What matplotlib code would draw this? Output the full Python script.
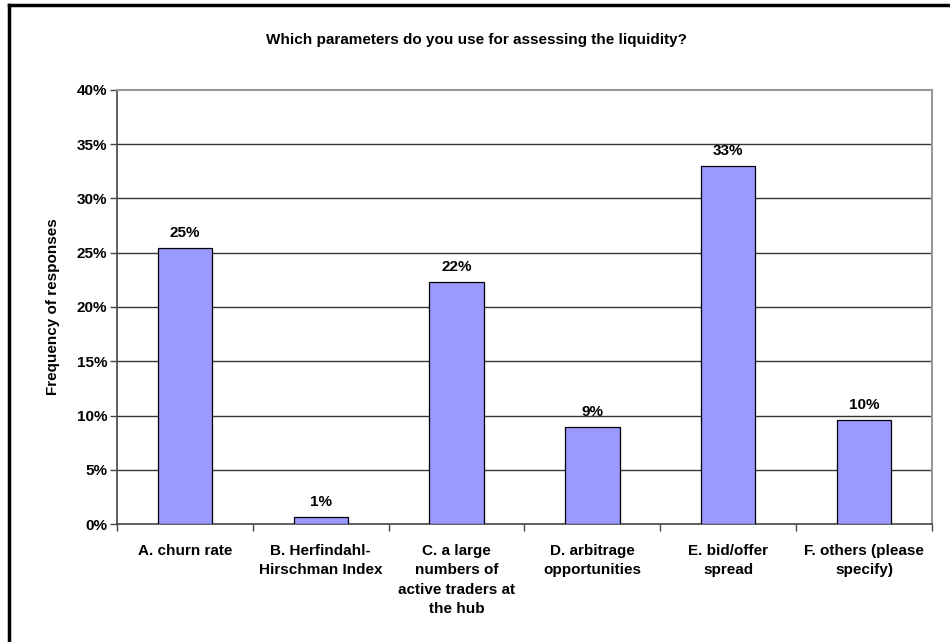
import matplotlib
matplotlib.use("Agg")
import matplotlib.pyplot as plt
from matplotlib.lines import Line2D
from matplotlib.ticker import FuncFormatter, MultipleLocator

plt.rcParams['font.family'] = ['Liberation Sans', 'DejaVu Sans']

categories = ["A. churn rate",
              "B. Herfindahl-\nHirschman Index",
              "C. a large\nnumbers of\nactive traders at\nthe hub",
              "D. arbitrage\nopportunities",
              "E. bid/offer\nspread",
              "F. others (please\nspecify)"]
values = [25.4, 0.65, 22.3, 8.9, 33.0, 9.55]
labels = ["25%", "1%", "22%", "9%", "33%", "10%"]
title = "Which parameters do you use for assessing the liquidity?"
ylabel = "Frequency of responses"

W, H = 950, 642
fig = plt.figure(figsize=(W / 100, H / 100), dpi=100)
fig.patch.set_facecolor("white")

FS = 11

# axes in pixel geometry
L, R, T, B = 117, 932, 90, 524
ax = fig.add_axes([L / W, 1 - B / H, (R - L) / W, (B - T) / H])

x = list(range(len(categories)))
ax.bar(x, values, width=0.4, color="#9999FF", edgecolor="black", linewidth=0.9, zorder=3)
ax.set_xlim(-0.5, len(categories) - 0.5)
ax.set_ylim(0, 40)
ax.yaxis.set_major_locator(MultipleLocator(5))
ax.yaxis.set_major_formatter(FuncFormatter(lambda v, p: f"{int(round(v))}%"))

# gridlines
for yv in range(5, 40, 5):
    ax.axhline(yv, color="#333333", linewidth=1.0, zorder=1)

for s in ["top", "right"]:
    ax.spines[s].set_color("#999999")
    ax.spines[s].set_linewidth(1.5)
for s in ["left", "bottom"]:
    ax.spines[s].set_color("#444444")
    ax.spines[s].set_linewidth(1.2)

# x ticks at category boundaries
ax.set_xticks([i - 0.5 for i in range(len(categories) + 1)])
ax.set_xticklabels([])
ax.tick_params(axis="x", direction="out", length=5, width=1, color="#444444")
ax.tick_params(axis="y", direction="out", length=5, width=1, color="#444444",
               labelsize=FS, pad=2)
for lab in ax.get_yticklabels():
    lab.set_fontweight("bold")

# category labels
for i, c in enumerate(categories):
    ax.text(i, -0.045, c, transform=ax.get_xaxis_transform(), ha="center", va="top",
            fontsize=FS, fontweight="bold", linespacing=1.5)

# value labels
for i, (v, t) in enumerate(zip(values, labels)):
    ax.annotate(t, (i, v), xytext=(0, 6), textcoords="offset points",
                ha="center", va="bottom", fontsize=FS, fontweight="bold", zorder=4)

fig.text(476 / W, 1 - 40 / H, title, ha="center", va="center",
         fontsize=FS, fontweight="bold")
fig.text(53 / W, 1 - 307 / H, ylabel, ha="center", va="center", rotation=90,
         fontsize=FS, fontweight="bold")

# outer frame (left and top visible)
fig.add_artist(Line2D([9 / W, 9 / W], [0, 1 - 5 / H], transform=fig.transFigure,
                      color="black", linewidth=2.5))
fig.add_artist(Line2D([9 / W, 1], [1 - 5 / H, 1 - 5 / H], transform=fig.transFigure,
                      color="black", linewidth=2.5))

fig.savefig("out.png", dpi=100)
